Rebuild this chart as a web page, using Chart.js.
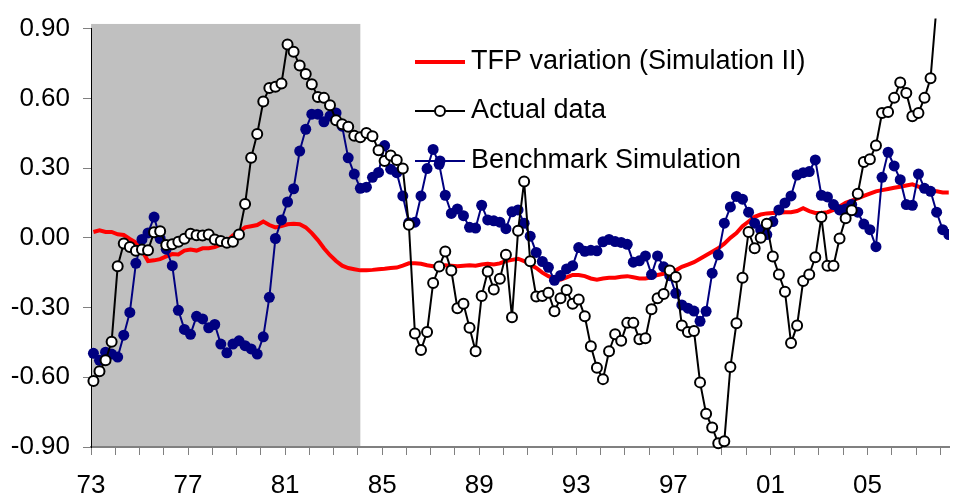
<!DOCTYPE html>
<html>
<head>
<meta charset="utf-8">
<script src="https://cdn.jsdelivr.net/npm/chart.js@4.4.1/dist/chart.umd.min.js"></script>
<style>
  html, body { margin: 0; padding: 0; background: #fff; }
  canvas { display: block; }
</style>
</head>
<body>
<canvas id="graficoTfp" width="956" height="501"></canvas>
<script>
// quarterly series, first quarter = 1973Q1
const firstYear = 1973;
const lastYear = 2008.36;
const pointOffset = 0.1;
const labelEvery = 4;
const shadeFrom = 1973;
const shadeTo = 1984.1;
const shadeTop = 0.92;
const yTicks = [-0.9, -0.6, -0.3, 0, 0.3, 0.6, 0.9];

const tfpVariation = [
  0.025, 0.032, 0.025, 0.025, 0.015, 0.012, -0.005, -0.020, -0.055, -0.100,
  -0.097, -0.092, -0.080, -0.070, -0.072, -0.055, -0.050, -0.055, -0.045, -0.045,
  -0.040, -0.030, -0.015, 0.010, 0.025, 0.045, 0.050, 0.055, 0.070, 0.055,
  0.045, 0.050, 0.058, 0.060, 0.058, 0.045, 0.020, -0.010, -0.045, -0.075,
  -0.100, -0.120, -0.130, -0.135, -0.140, -0.140, -0.138, -0.135, -0.133, -0.130,
  -0.128, -0.120, -0.110, -0.110, -0.112, -0.118, -0.122, -0.120, -0.118, -0.120,
  -0.122, -0.120, -0.118, -0.120, -0.115, -0.112, -0.115, -0.110, -0.100, -0.095,
  -0.090, -0.100, -0.115, -0.130, -0.150, -0.165, -0.175, -0.180, -0.170, -0.160,
  -0.160, -0.165, -0.175, -0.180, -0.175, -0.172, -0.172, -0.168, -0.165, -0.170,
  -0.175, -0.175, -0.170, -0.160, -0.155, -0.150, -0.140, -0.125, -0.115, -0.105,
  -0.090, -0.075, -0.060, -0.045, -0.025, 0.000, 0.020, 0.050, 0.070, 0.090,
  0.100, 0.105, 0.107, 0.108, 0.110, 0.110, 0.115, 0.127, 0.115, 0.107,
  0.107, 0.110, 0.120, 0.135, 0.150, 0.160, 0.170, 0.180, 0.190, 0.200,
  0.205, 0.210, 0.215, 0.220, 0.225, 0.230, 0.220, 0.210, 0.200, 0.200,
  0.195, 0.195
];

const actualData = [
  -0.616, -0.574, -0.527, -0.447, -0.122, -0.025, -0.040, -0.056, -0.050, -0.054,
  0.024, 0.028, -0.031, -0.028, -0.017, -0.004, 0.017, 0.011, 0.010, 0.014,
  -0.007, -0.014, -0.021, -0.017, 0.014, 0.145, 0.344, 0.447, 0.586, 0.644,
  0.650, 0.664, 0.832, 0.800, 0.741, 0.705, 0.661, 0.606, 0.602, 0.570,
  0.506, 0.488, 0.478, 0.439, 0.433, 0.451, 0.437, 0.377, 0.330, 0.354,
  0.335, 0.298, 0.056, -0.412, -0.483, -0.405, -0.194, -0.124, -0.059, -0.141,
  -0.303, -0.284, -0.387, -0.488, -0.250, -0.145, -0.222, -0.176, -0.073, -0.342,
  0.030, 0.242, -0.101, -0.253, -0.250, -0.236, -0.316, -0.260, -0.225, -0.284,
  -0.265, -0.338, -0.467, -0.559, -0.608, -0.488, -0.415, -0.443, -0.366, -0.366,
  -0.436, -0.432, -0.307, -0.260, -0.242, -0.141, -0.169, -0.377, -0.405, -0.401,
  -0.622, -0.757, -0.816, -0.884, -0.875, -0.556, -0.368, -0.172, 0.025, -0.045,
  0.000, 0.060, -0.080, -0.158, -0.232, -0.453, -0.377, -0.186, -0.158, -0.084,
  0.089, -0.120, -0.120, -0.003, 0.084, 0.119, 0.190, 0.326, 0.338, 0.397,
  0.537, 0.541, 0.602, 0.668, 0.623, 0.523, 0.537, 0.602, 0.686, 1.000
];

const benchmarkSim = [
  -0.497, -0.527, -0.492, -0.500, -0.513, -0.419, -0.321, -0.110, -0.007, 0.021,
  0.089, -0.003, -0.049, -0.120, -0.312, -0.394, -0.415, -0.338, -0.349, -0.387,
  -0.373, -0.457, -0.495, -0.457, -0.443, -0.464, -0.478, -0.500, -0.426, -0.256,
  -0.003, 0.077, 0.154, 0.211, 0.373, 0.467, 0.532, 0.532, 0.499, 0.524,
  0.537, 0.480, 0.344, 0.274, 0.213, 0.218, 0.260, 0.281, 0.397, 0.295,
  0.280, 0.180, 0.065, 0.067, 0.180, 0.298, 0.380, 0.316, 0.183, 0.105,
  0.124, 0.095, 0.045, 0.042, 0.140, 0.077, 0.073, 0.067, 0.039, 0.112,
  0.120, 0.063, 0.007, -0.063, -0.102, -0.127, -0.183, -0.162, -0.134, -0.120,
  -0.042, -0.058, -0.054, -0.056, -0.017, -0.007, -0.016, -0.020, -0.028, -0.105,
  -0.099, -0.078, -0.158, -0.078, -0.125, -0.163, -0.239, -0.289, -0.303, -0.315,
  -0.359, -0.316, -0.152, -0.073, 0.063, 0.133, 0.178, 0.166, 0.110, 0.063,
  0.035, 0.014, 0.070, 0.120, 0.150, 0.180, 0.270, 0.280, 0.285, 0.335,
  0.183, 0.176, 0.143, 0.120, 0.124, 0.143, 0.110, 0.059, 0.035, -0.038,
  0.260, 0.368, 0.309, 0.250, 0.143, 0.140, 0.274, 0.213, 0.200, 0.110,
  0.035, 0.014
];

const fonte = "'Liberation Sans', Arial, sans-serif";

function quarterPoints(values) {
  return values.map((v, i) => ({ x: firstYear + pointOffset + i / 4, y: v }));
}

// gray band behind the early years
const sombra = {
  id: 'sombra',
  beforeDraw(chart) {
    const { ctx, chartArea, scales } = chart;
    const left = scales.x.getPixelForValue(shadeFrom);
    const right = scales.x.getPixelForValue(shadeTo);
    const top = scales.y.getPixelForValue(shadeTop);
    ctx.save();
    ctx.fillStyle = '#c0c0c0';
    ctx.fillRect(left, top, right - left, chartArea.bottom - top);
    ctx.restore();
  }
};

// legend drawn inside the plot, no box
const legenda = {
  id: 'legenda',
  beforeDatasetsDraw(chart) {
    const ctx = chart.ctx;
    const linhas = [
      { text: 'TFP variation (Simulation II)', color: '#ff0000', width: 4, marker: null, y: 62 },
      { text: 'Actual data', color: '#000000', width: 2, marker: 'open', y: 111 },
      { text: 'Benchmark Simulation', color: '#000080', width: 2, marker: 'filled', y: 161 }
    ];
    ctx.save();
    linhas.forEach(l => {
      ctx.strokeStyle = l.color;
      ctx.lineWidth = l.width;
      ctx.beginPath();
      ctx.moveTo(415, l.y);
      ctx.lineTo(465, l.y);
      ctx.stroke();
      if (l.marker === 'open') {
        ctx.beginPath();
        ctx.arc(440, l.y, 5, 0, Math.PI * 2);
        ctx.fillStyle = '#fff';
        ctx.fill();
        ctx.lineWidth = 2;
        ctx.stroke();
      } else if (l.marker === 'filled') {
        ctx.beginPath();
        ctx.arc(440, l.y, 5.5, 0, Math.PI * 2);
        ctx.fillStyle = l.color;
        ctx.fill();
      }
      ctx.fillStyle = '#000';
      ctx.font = '27px ' + fonte;
      ctx.textAlign = 'left';
      ctx.textBaseline = 'middle';
      ctx.fillText(l.text, 471, l.y);
    });
    ctx.restore();
  }
};

const recorte = { left: 10, top: 10, right: 0, bottom: 10 };

new Chart(document.getElementById('graficoTfp'), {
  type: 'line',
  data: {
    datasets: [
      {
        label: 'Actual data',
        data: quarterPoints(actualData),
        borderColor: '#000000',
        borderWidth: 2,
        pointRadius: 5,
        pointBorderWidth: 2,
        pointBackgroundColor: '#ffffff',
        pointBorderColor: '#000000',
        clip: recorte
      },
      {
        label: 'Benchmark Simulation',
        data: quarterPoints(benchmarkSim),
        borderColor: '#000080',
        borderWidth: 2,
        pointRadius: 5.5,
        pointBorderWidth: 0,
        pointBackgroundColor: '#000080',
        clip: recorte
      },
      {
        label: 'TFP variation (Simulation II)',
        data: quarterPoints(tfpVariation),
        borderColor: '#ff0000',
        borderWidth: 4,
        pointRadius: 0,
        clip: recorte
      }
    ]
  },
  options: {
    responsive: false,
    animation: false,
    devicePixelRatio: 1,
    layout: { padding: { top: 20, right: 0, left: 0, bottom: 0 } },
    plugins: { legend: { display: false }, tooltip: { enabled: false } },
    scales: {
      x: {
        type: 'linear',
        min: firstYear,
        max: lastYear,
        afterFit: s => { s.height = 54; },
        grid: { drawOnChartArea: false, tickLength: 8, color: '#808080' },
        border: { color: '#808080', width: 2 },
        ticks: {
          stepSize: 1,
          autoSkip: false,
          includeBounds: false,
          maxRotation: 0,
          padding: 15,
          color: '#000',
          font: { family: fonte, size: 26 },
          callback: v => ((v - firstYear) % labelEvery === 0 ? String(v % 100).padStart(2, '0') : '')
        }
      },
      y: {
        min: yTicks[0],
        max: yTicks[yTicks.length - 1],
        afterBuildTicks: s => { s.ticks = yTicks.map(v => ({ value: v })); },
        afterFit: s => { s.width = 91; },
        grid: { drawOnChartArea: false, tickLength: 8, color: '#808080' },
        border: { color: '#000000', width: 1 },
        ticks: {
          padding: 13,
          color: '#000',
          font: { family: fonte, size: 26 },
          callback: v => v.toFixed(2)
        }
      }
    }
  },
  plugins: [sombra, legenda]
});
</script>
</body>
</html>
